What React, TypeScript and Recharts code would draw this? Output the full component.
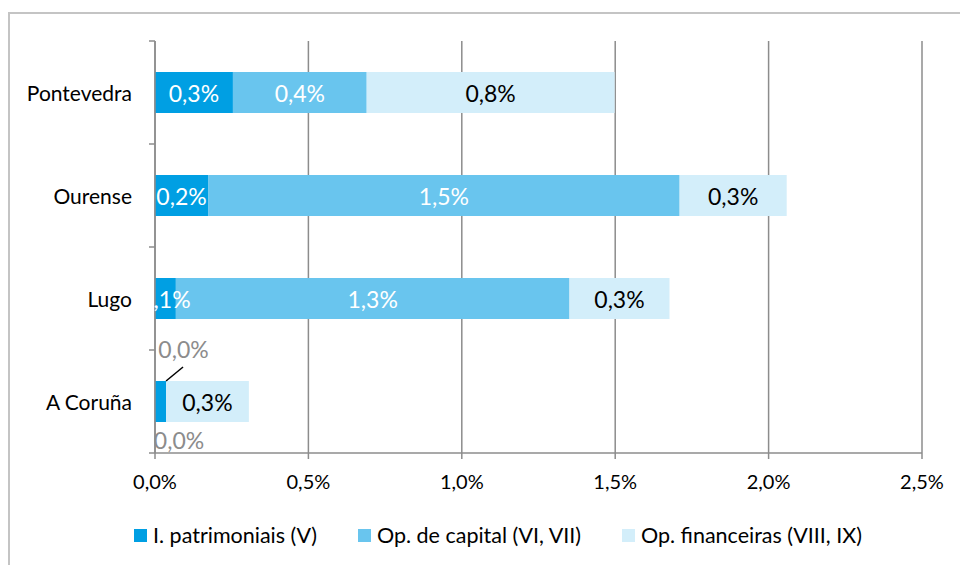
import { BarChart, Bar, XAxis, YAxis, CartesianGrid, LabelList } from "recharts";

const provincias = ["Pontevedra", "Ourense", "Lugo", "A Coruña"];
const patrimoniais = [0.254, 0.173, 0.068, 0.036];
const capital = [0.436, 1.537, 1.283, 0];
const financeiras = [0.808, 0.349, 0.326, 0.27];
const xTicks = [0, 0.5, 1, 1.5, 2, 2.5];

const series = [
  { key: "patrimoniais", name: "I. patrimoniais (V)", color: "#009fe3", text: "#ffffff" },
  { key: "capital", name: "Op. de capital (VI, VII)", color: "#69c5ee", text: "#ffffff" },
  { key: "financeiras", name: "Op. financeiras (VIII, IX)", color: "#d3eefa", text: "#000000" },
];

const data = provincias.map((name, i) => ({
  name,
  patrimoniais: patrimoniais[i],
  capital: capital[i],
  financeiras: financeiras[i],
}));

const W = 960;
const H = 565;
const TOP = 41;
const BOTTOM = 112;
const BAND = (H - TOP - BOTTOM) / provincias.length;
const FONT = "Lato, 'Open Sans', sans-serif";
const AXIS = "#8c8c8c";
const SMALL = "#8c8c8c";
const LABEL_SIZE = 23;

const fmt = (v: number) => v.toFixed(1).replace(".", ",") + "%";

const CategoryTick = (props: any) => {
  const { x, y, payload, index } = props;
  const half = BAND / 2;
  return (
    <g>
      <text x={x - 23} y={y} textAnchor="end" dominantBaseline="central" fontSize={21} fill="#000">
        {payload.value}
      </text>
      <line x1={x - 6} x2={x} y1={y - half} y2={y - half} stroke={AXIS} strokeWidth={1.5} />
      {index === provincias.length - 1 && (
        <line x1={x - 6} x2={x} y1={y + half} y2={y + half} stroke={AXIS} strokeWidth={1.5} />
      )}
    </g>
  );
};

const makeLabel = (color: string, kind: string) => (props: any) => {
  const { x, y, width, height, value, index } = props;
  const v = Number(value);
  const cx = x + width / 2;
  const cy = y + height / 2;
  if (kind === "capital" && v === 0) return null;
  if (kind === "patrimoniais" && v < 0.05) {
    // small slice: label outside with leader line; zero capital slice labelled below
    return (
      <g>
        <line x1={x + width} y1={y} x2={x + width + 17} y2={y - 14} stroke="#000" strokeWidth={1.5} />
        <text x={cx + 23} y={y - 32} textAnchor="middle" dominantBaseline="central" fontSize={LABEL_SIZE} fill={SMALL}>
          {fmt(v)}
        </text>
        {capital[index] === 0 && (
          <text x={x + 24} y={y + height + 18} textAnchor="middle" dominantBaseline="central" fontSize={LABEL_SIZE} fill={SMALL}>
            {fmt(capital[index])}
          </text>
        )}
      </g>
    );
  }
  return (
    <text x={cx} y={cy} textAnchor="middle" dominantBaseline="central" fontSize={LABEL_SIZE} fill={color}>
      {fmt(v)}
    </text>
  );
};

export default function App() {
  return (
    <div
      style={{
        position: "fixed",
        left: 0,
        top: 0,
        width: W,
        height: H,
        overflow: "hidden",
        background: "#fff",
        fontFamily: FONT,
      }}
    >
      <div
        style={{
          position: "absolute",
          left: 8,
          top: 12,
          width: 1000,
          height: 700,
          borderTop: "2px solid #c4c4c4",
          borderLeft: "2px solid #c4c4c4",
        }}
      />
      <div style={{ position: "absolute", left: 0, top: 0 }}>
        <BarChart
          width={W}
          height={H}
          data={data}
          layout="vertical"
          margin={{ top: TOP, right: 38, bottom: 0, left: 0 }}
          style={{ fontFamily: FONT }}
        >
          <CartesianGrid horizontal={false} stroke={AXIS} strokeWidth={1.5} />
          <XAxis
            type="number"
            domain={[0, 2.5]}
            ticks={xTicks}
            tickFormatter={fmt}
            height={BOTTOM}
            stroke={AXIS}
            strokeWidth={1.5}
            tickSize={6}
            tickMargin={16}
            tick={{ fill: "#000", fontSize: 20 }}
          />
          <YAxis
            type="category"
            dataKey="name"
            width={155}
            stroke={AXIS}
            strokeWidth={1.5}
            tickLine={false}
            tickSize={0}
            tickMargin={0}
            tick={<CategoryTick />}
          />
          {series.map((s) => (
            <Bar
              key={s.key}
              dataKey={s.key}
              name={s.name}
              stackId="a"
              fill={s.color}
              barSize={41}
              isAnimationActive={false}
            >
              <LabelList dataKey={s.key} content={makeLabel(s.text, s.key)} />
            </Bar>
          ))}
        </BarChart>
      </div>
      <div
        style={{
          position: "absolute",
          left: 134,
          top: 521,
          display: "flex",
          gap: 41,
          fontSize: 21.5,
          lineHeight: "28px",
          color: "#000",
        }}
      >
        {series.map((s) => (
          <div key={s.key} style={{ display: "flex", alignItems: "center" }}>
            <span style={{ width: 13, height: 13, background: s.color, marginRight: 6 }} />
            <span>{s.name}</span>
          </div>
        ))}
      </div>
    </div>
  );
}
